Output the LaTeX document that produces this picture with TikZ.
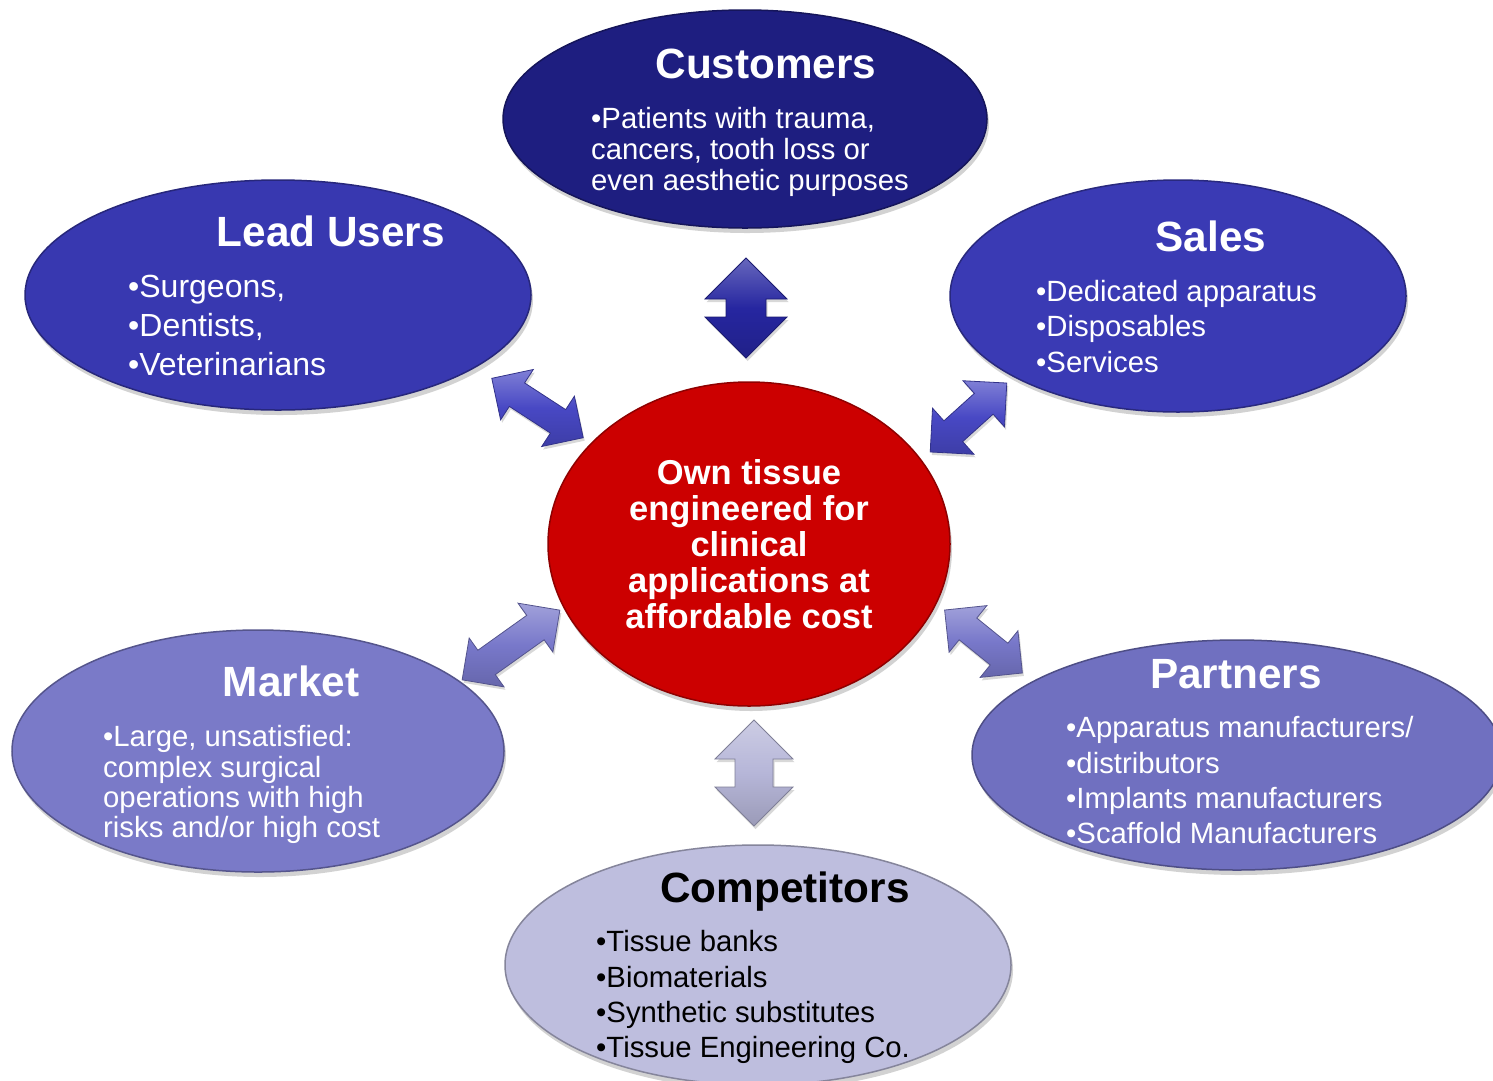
\documentclass[tikz,border=0pt]{standalone}
\usepackage{fontspec}
\setmainfont{Liberation Sans}
\usetikzlibrary{shapes.geometric,shadows}
\definecolor{custC}{RGB}{30,30,128}
\definecolor{leadC}{RGB}{56,56,176}
\definecolor{salesC}{RGB}{58,58,180}
\definecolor{coreC}{RGB}{204,0,0}
\definecolor{marketC}{RGB}{122,122,200}
\definecolor{partC}{RGB}{112,112,192}
\definecolor{compC}{RGB}{190,190,222}
\definecolor{arrTop}{RGB}{38,38,160}
\definecolor{arrMid}{RGB}{72,72,196}
\definecolor{arrLow}{RGB}{120,120,202}
\definecolor{arrBot}{RGB}{182,182,216}
\tikzset{
  oval/.style={ellipse, inner sep=0pt, fill=#1, draw=#1!70!black, line width=1.5pt,
    drop shadow={shadow xshift=2pt, shadow yshift=-5pt, opacity=0.35}},
  arrowbody/.style={top color=#1!70!white, bottom color=#1!85!black, middle color=#1,
    draw=#1!70!black, line width=0.8pt,
    drop shadow={shadow xshift=1.5pt, shadow yshift=-3pt, opacity=0.3}},
  ttl/.style={font=\fontsize{42.3}{50}\selectfont\bfseries, anchor=base, inner sep=0pt, text=white},
  bdy/.style={font=\fontsize{29.3}{35}\selectfont, anchor=base west, inner sep=0pt, text=white},
  bdyL/.style={font=\fontsize{32}{38}\selectfont, anchor=base west, inner sep=0pt, text=white},
  ctr/.style={font=\fontsize{34.5}{36}\selectfont\bfseries, anchor=base, inner sep=0pt, text=white},
}
\newcommand\dblarrow[7]{%
  \coordinate (#1) at (#2);
  \pgfmathsetmacro\la{#4/2}\pgfmathsetmacro\ha{#5/2}%
  \pgfmathsetmacro\sa{#6/2}\pgfmathsetmacro\ka{#4/2-#5/2}%
  \begin{scope}[shift={(#1)}, rotate=#3]
    \path[arrowbody=#7] (-\la,0) -- (-\ka,\ha) -- (-\ka,\sa) -- (\ka,\sa) -- (\ka,\ha)
      -- (\la,0) -- (\ka,-\ha) -- (\ka,-\sa) -- (-\ka,-\sa) -- (-\ka,-\ha) -- cycle;
  \end{scope}}
\begin{document}
\begin{tikzpicture}[x=1pt,y=-1pt]
\useasboundingbox[fill=white] (0,0) rectangle (1493,1080);

% ellipses
\node[oval=custC, minimum width=484pt, minimum height=218pt] (cust) at (745,119) {};
\node[oval=leadC, minimum width=506pt, minimum height=230pt] (lead) at (278,295) {};
\node[oval=salesC, minimum width=456pt, minimum height=232pt] (sales) at (1178,296) {};
\node[oval=marketC, minimum width=492pt, minimum height=242pt] (market) at (258,751) {};
\node[oval=partC, minimum width=530pt, minimum height=230pt] (part) at (1237,755) {};
\node[oval=compC, minimum width=506pt, minimum height=240pt] (comp) at (758,965) {};
\node[oval=coreC, minimum width=402pt, minimum height=324pt] (core) at (749,544) {};

% arrows
\dblarrow{aTop}{746,308}{90}{100}{82}{40}{arrTop}
\dblarrow{aLead}{537.5,408}{-33}{109}{60}{28}{arrMid}
\dblarrow{aSales}{968.5,417.5}{42}{103}{62}{28}{arrMid}
\dblarrow{aMarket}{511,645}{35.5}{120}{60}{30}{arrLow}
\dblarrow{aPart}{983.5,641.5}{-39}{100}{60}{28}{arrLow}
\dblarrow{aBot}{754,773}{90}{106}{78}{38}{arrBot}

% Customers
\node[ttl] (custT) at (766,78) {Customers};
\node[bdy] (cust1) at (591,128) {•Patients with trauma,};
\node[bdy] (cust2) at (591,159) {cancers, tooth loss or};
\node[bdy] (cust3) at (591,190) {even aesthetic purposes};

% Lead Users
\node[ttl] (leadT) at (331,246) {Lead Users};
\node[bdyL] (lead1) at (128,297) {•Surgeons,};
\node[bdyL] (lead2) at (128,336) {•Dentists,};
\node[bdyL] (lead3) at (128,375) {•Veterinarians};

% Sales
\node[ttl] (salesT) at (1211,251) {Sales};
\node[bdy] (sales1) at (1036,301) {•Dedicated apparatus};
\node[bdy] (sales2) at (1036,336) {•Disposables};
\node[bdy] (sales3) at (1036,372) {•Services};

% Core
\node[ctr] (core1) at (749,484) {Own tissue};
\node[ctr] (core2) at (749,520) {engineered for};
\node[ctr] (core3) at (749,556) {clinical};
\node[ctr] (core4) at (749,592) {applications at};
\node[ctr] (core5) at (749,628) {affordable cost};

% Market
\node[ttl] (marketT) at (291,696) {Market};
\node[bdy] (market1) at (103,746) {•Large, unsatisfied:};
\node[bdy] (market2) at (103,777) {complex surgical};
\node[bdy] (market3) at (103,807) {operations with high};
\node[bdy] (market4) at (103,837) {risks and/or high cost};

% Partners
\node[ttl] (partT) at (1236,688) {Partners};
\node[bdy] (part1) at (1066,737) {•Apparatus manufacturers/};
\node[bdy] (part2) at (1066,773) {•distributors};
\node[bdy] (part3) at (1066,808) {•Implants manufacturers};
\node[bdy] (part4) at (1066,843) {•Scaffold Manufacturers};

% Competitors
\node[ttl, text=black] (compT) at (785,902) {Competitors};
\node[bdy, text=black] (comp1) at (596,951) {•Tissue banks};
\node[bdy, text=black] (comp2) at (596,987) {•Biomaterials};
\node[bdy, text=black] (comp3) at (596,1022) {•Synthetic substitutes};
\node[bdy, text=black] (comp4) at (596,1057) {•Tissue Engineering Co.};
\end{tikzpicture}
\end{document}
